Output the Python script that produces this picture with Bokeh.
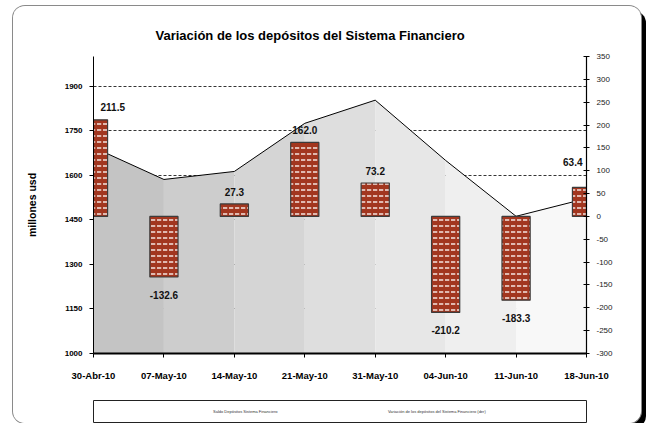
from bokeh.plotting import figure
from bokeh.layouts import column
from bokeh.models import Range1d, LinearAxis, FixedTicker, Legend, LegendItem
from bokeh.core.properties import value
from bokeh.embed import file_html
from bokeh.resources import INLINE

# ---- data ----
dates = ["30-Abr-10", "07-May-10", "14-May-10", "21-May-10",
         "31-May-10", "04-Jun-10", "11-Jun-10", "18-Jun-10"]
saldo = [1694, 1586, 1613, 1775, 1853, 1650, 1462, 1522]
variacion = [211.5, -132.6, 27.3, 162.0, 73.2, -210.2, -183.3, 63.4]
left_ticks = [1000, 1150, 1300, 1450, 1600, 1750, 1900]
right_ticks = [-300, -250, -200, -150, -100, -50, 0, 50, 100, 150, 200, 250, 300, 350]
title_text = "Variación de los depósitos del Sistema Financiero"
y_label = "millones usd"
legend_labels = ["Saldo Depósitos Sistema Financiero",
                 "Variación de los depósitos del Sistema Financiero (der)"]

FONT = "Liberation Sans"
idx = list(range(len(dates)))
W = 628
H_MAIN = 388
H_LEG = 29
FL, FR = 73, 36

p = figure(width=W, height=H_MAIN, output_backend="svg", toolbar_location=None,
           x_range=Range1d(0, len(dates) - 1), y_range=Range1d(1000, 2000),
           min_border_left=FL, min_border_right=FR, min_border_top=50,
           min_border_bottom=41, background_fill_color="white",
           border_fill_color="white")
p.outline_line_color = None
p.extra_y_ranges = {"var": Range1d(-300, 350)}

# title
p.title.text = title_text
p.title.align = "left"
p.title.offset = 62
p.title.standoff = 27
p.title.text_font = FONT
p.title.text_font_size = "13px"
p.title.text_font_style = "bold"
p.title.text_color = "black"

# grid
lt = FixedTicker(ticks=left_ticks)
p.xgrid.visible = False
p.ygrid.ticker = lt
p.ygrid.grid_line_color = "black"
p.ygrid.grid_line_dash = "3 2"
p.ygrid.grid_line_width = 0.8

# area: grey-to-white shading, one band per interval
n = len(saldo)
y0 = p.y_range.start
for i in range(n - 1):
    g = int(round(192 + (252 - 192) * (i + 0.5) / (n - 1)))
    col = "#%02x%02x%02x" % (g, g, g)
    p.varea(x=[idx[i], idx[i + 1]], y1=[y0, y0], y2=[saldo[i], saldo[i + 1]],
            fill_color=col, fill_alpha=1.0)
p.line(idx, saldo, line_color="black", line_width=1)

# bars (right axis)
p.vbar(x=idx, top=variacion, bottom=0, width=0.4, y_range_name="var",
       fill_color="#A2361F", line_color="#3c3c3c", line_width=1.2,
       hatch_pattern="horizontal_dash", hatch_color="#f4e4e0",
       hatch_scale=6, hatch_weight=1.5)

# value labels
labels = ["%.1f" % v for v in variacion]
common = dict(y_range_name="var", text_font=value(FONT), text_font_size="10px",
              text_font_style="bold", text_color="#111111", text_baseline="middle")
mid = idx[1:-1]
pos = [i for i in mid if variacion[i] >= 0]
neg = [i for i in mid if variacion[i] < 0]
p.text(x=pos, y=[variacion[i] for i in pos], text=[labels[i] for i in pos],
       text_align="center", y_offset=-12, **common)
p.text(x=neg, y=[variacion[i] for i in neg], text=[labels[i] for i in neg],
       text_align="center", y_offset=18, **common)
p.text(x=[idx[0]], y=[variacion[0]], text=[labels[0]],
       text_align="left", x_offset=7, y_offset=-13, **common)
p.text(x=[idx[-1]], y=[variacion[-1]], text=[labels[-1]],
       text_align="right", x_offset=-4, y_offset=-25, **common)

# axes
xa = p.xaxis[0]
xa.ticker = FixedTicker(ticks=idx)
xa.major_label_overrides = {i: d for i, d in zip(idx, dates)}
xa.axis_line_width = 2
xa.axis_line_color = "black"
xa.major_tick_out = 4
xa.major_tick_in = 0
xa.minor_tick_out = 0
xa.major_label_standoff = 12
xa.major_label_text_font = FONT
xa.major_label_text_font_size = "9.5px"
xa.major_label_text_font_style = "bold"
xa.major_label_text_color = "black"

ya = p.yaxis[0]
ya.ticker = lt
ya.axis_line_color = "black"
ya.major_tick_out = 4
ya.major_tick_in = 0
ya.minor_tick_out = 0
ya.minor_tick_in = 0
ya.major_label_standoff = 7
ya.major_label_text_font = FONT
ya.major_label_text_font_size = "8px"
ya.major_label_text_font_style = "bold"
ya.major_label_text_color = "black"
ya.axis_label = y_label
ya.axis_label_text_font = FONT
ya.axis_label_text_font_size = "10.5px"
ya.axis_label_text_font_style = "bold"
ya.axis_label_text_color = "black"
ya.axis_label_standoff = 24

ra = LinearAxis(y_range_name="var", ticker=FixedTicker(ticks=right_ticks))
ra.major_label_overrides = {t: str(t) for t in right_ticks}
ra.axis_line_color = "black"
ra.axis_line_width = 1.2
ra.major_tick_out = 3
ra.major_tick_in = 3
ra.minor_tick_out = 0
ra.minor_tick_in = 0
ra.major_label_standoff = 7
ra.major_label_text_font = FONT
ra.major_label_text_font_size = "8px"
ra.major_label_text_color = "#222222"
p.add_layout(ra, "right")

# legend panel (its frame is the legend box)
q = figure(width=W, height=H_LEG, output_backend="svg", toolbar_location=None,
           x_range=Range1d(0, 1), y_range=Range1d(0, 1),
           x_axis_location=None, y_axis_location=None,
           min_border_left=80, min_border_right=55, min_border_top=6,
           min_border_bottom=0, border_fill_color="white",
           background_fill_color="white")
q.grid.visible = False
q.outline_line_color = "#222222"
q.outline_line_width = 1
d1 = q.quad(left=[], right=[], top=[], bottom=[], fill_color="#2a2a2a", line_color="#2a2a2a")
d2 = q.quad(left=[], right=[], top=[], bottom=[], fill_color="#7a1e12", line_color="#3a0c06")
leg = Legend(items=[LegendItem(label=legend_labels[0], renderers=[d1]),
                    LegendItem(label=legend_labels[1], renderers=[d2])],
             location=(115, 9), orientation="horizontal", padding=0,
             glyph_width=4, glyph_height=4, label_standoff=1, label_width=83,
             label_height=4, spacing=87, border_line_alpha=0,
             background_fill_alpha=0, label_text_font=FONT,
             label_text_font_size="4px", label_text_color="#333333")
q.add_layout(leg)

lay = column(p, q, spacing=0)
lay.margin = (6, 0, 0, 13)
lay.styles = {"border-radius": "12px", "overflow": "hidden",
              "box-shadow": "0 0 0 1px #8a8a8a, 5px 5px 0 0 #000"}

open("out.html", "w").write(file_html(lay, INLINE))
